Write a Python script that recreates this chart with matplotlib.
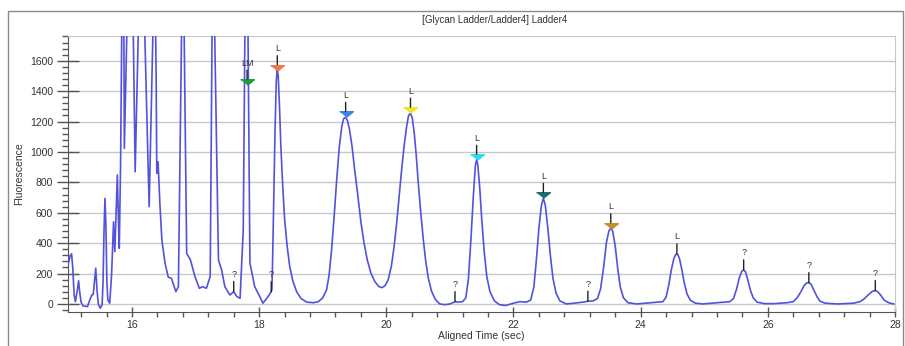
import matplotlib
matplotlib.use("Agg")
import matplotlib.pyplot as plt
import matplotlib.transforms as mtransforms
from matplotlib.patches import Rectangle
from matplotlib.ticker import MultipleLocator

plt.rcParams['font.family'] = ['Liberation Sans', 'DejaVu Sans']

# trace (time in sec, fluorescence)
trace_time = [
    15.00, 15.03, 15.05, 15.07, 15.09, 15.11, 15.14, 15.16, 15.18, 15.20,
    15.23, 15.30, 15.34, 15.37, 15.39, 15.41, 15.43, 15.45, 15.47, 15.50,
    15.53, 15.545, 15.56, 15.575, 15.59, 15.605, 15.62, 15.65, 15.68, 15.71,
    15.73, 15.75, 15.77, 15.79, 15.80, 15.82,
    15.84, 15.86, 15.88, 15.92, 15.96, 16.02, 16.05, 16.10, 16.15, 16.20,
    16.27, 16.33, 16.35, 16.38, 16.39, 16.41, 16.44, 16.47, 16.52, 16.57,
    16.62, 16.69, 16.73, 16.78, 16.80, 16.82, 16.86, 16.92, 16.99, 17.06,
    17.11, 17.17, 17.23, 17.26, 17.28, 17.30, 17.36, 17.41, 17.46, 17.54,
    17.60, 17.65, 17.70, 17.75, 17.80, 17.855, 17.93, 18.01, 18.06, 18.14,
    18.18, 18.20, 18.21, 18.23, 18.25, 18.27, 18.285, 18.30, 18.32, 18.34,
    18.37, 18.40, 18.44, 18.48, 18.53, 18.59, 18.66, 18.75, 18.85, 18.93,
    19.00, 19.06, 19.10, 19.14, 19.18, 19.22, 19.26, 19.30, 19.33, 19.36,
    19.39, 19.42, 19.46, 19.50, 19.55, 19.60, 19.65, 19.70, 19.76, 19.82,
    19.88, 19.93, 19.98, 20.03, 20.08, 20.12, 20.16, 20.20, 20.24, 20.28,
    20.32, 20.35, 20.38, 20.41, 20.44, 20.47, 20.50, 20.54, 20.58, 20.62,
    20.66, 20.71, 20.77, 20.84, 20.92, 21.00, 21.06, 21.08, 21.12, 21.20,
    21.25, 21.29, 21.33, 21.37, 21.40, 21.42, 21.44, 21.47, 21.50, 21.54,
    21.58, 21.63, 21.70, 21.78, 21.88, 22.00, 22.10, 22.20, 22.27, 22.32,
    22.36, 22.40, 22.44, 22.47, 22.50, 22.54, 22.58, 22.62, 22.67, 22.73,
    22.83, 22.95, 23.10, 23.17, 23.25, 23.32, 23.37, 23.42, 23.46, 23.50,
    23.53, 23.56, 23.60, 23.64, 23.68, 23.73, 23.80, 23.94, 24.15, 24.35,
    24.40, 24.44, 24.48, 24.52, 24.55, 24.58, 24.61, 24.65, 24.69, 24.73,
    24.78, 24.86, 24.98, 25.20, 25.40, 25.46, 25.51, 25.55, 25.59, 25.62,
    25.65, 25.69, 25.73, 25.77, 25.83, 25.95, 26.10, 26.30, 26.40, 26.46,
    26.52, 26.57, 26.61, 26.645, 26.68, 26.72, 26.77, 26.82, 26.90, 27.10,
    27.35, 27.45, 27.52, 27.58, 27.64, 27.69, 27.73, 27.78, 27.83, 27.90,
    27.98,
]
trace_value = [
    268, 320, 329, 230, 60, 15, 90, 153, 70, 10,
    -13, -17, 30, 60, 62, 150, 235, 90, 0, -28,
    -7, 150, 480, 695, 520, 150, 26, 5, 200, 541,
    344, 600, 849, 500, 366, 900,
    1800, 3000, 1024, 1800, 3000, 1800, 870, 1800, 3000, 1800,
    640, 1800, 2600, 1500, 860, 936, 650, 421, 268, 176,
    169, 81, 114, 1800, 3000, 1800, 333, 289, 180, 103,
    114, 103, 180, 1800, 3000, 1800, 289, 224, 114, 59,
    81, 48, 37, 487, 3000, 268, 114, 48, 5, 48,
    75, 92, 250, 700, 1150, 1470, 1545, 1500, 1300, 1050,
    780, 560, 380, 250, 150, 80, 35, 12, 8, 15,
    40, 92, 190, 360, 580, 820, 1030, 1170, 1220, 1228,
    1205, 1150, 1040, 890, 720, 540, 400, 290, 200, 147,
    115, 107, 120, 160, 250, 370, 520, 700, 880, 1040,
    1170, 1240, 1255, 1220, 1120, 980, 810, 610, 430, 280,
    170, 85, 30, 0, -5, 0, 10, 15, 12, 15,
    40, 160, 420, 720, 910, 950, 910, 760, 560, 340,
    180, 80, 20, -5, -10, 5, 15, 12, 25, 110,
    290, 500, 650, 695, 650, 500, 320, 170, 70, 20,
    0, 5, 12, 18, 20, 35, 100, 250, 400, 480,
    498, 480, 380, 230, 110, 40, 8, 0, 8, 15,
    45, 120, 220, 295, 325, 328, 300, 220, 130, 65,
    25, 5, 0, 8, 15, 35, 100, 170, 215, 224,
    210, 150, 85, 40, 12, 2, 2, 8, 15, 40,
    80, 120, 138, 140, 130, 95, 50, 18, 5, 0,
    5, 15, 35, 60, 82, 88, 80, 55, 25, 8,
    0,
]

# peak labels
peak_time = [17.60, 17.81, 18.19, 18.285, 19.36, 20.38, 21.08, 21.42,
             22.47, 23.17, 23.53, 24.57, 25.62, 26.645, 27.69]
peak_label = ['?', 'LM', '?', 'L', 'L', 'L', '?', 'L',
              'L', '?', 'L', 'L', '?', '?', '?']
peak_height = [81, 1440, 80, 1535, 1228, 1255, 15, 945,
               695, 18, 495, 329, 224, 140, 88]
peak_color = [None, '#1f9a3c', None, '#f07a4a', '#3c84e8', '#f2e41c', None, '#2edcf0',
              '#1a6e70', None, '#c88c2a', None, None, None, None]

fig = plt.figure(figsize=(9.05, 3.46), dpi=100)
W, H = 905.0, 346.0
ax = fig.add_axes([68.4 / W, (H - 312) / H, (895 - 68.4) / W, (312 - 36) / H])

# outer frame of the panel
fig.patches.append(Rectangle((8 / W, -0.05), (903 - 8) / W, (H - 11) / H + 0.05,
                             transform=fig.transFigure, fill=False,
                             edgecolor='#8a8a8a', linewidth=1.0))

ax.plot(trace_time, trace_value, color='#5252dc', linewidth=1.2, zorder=3)

ax.set_xlim(15, 28)
ax.set_ylim(-53, 1763)
ax.xaxis.set_major_locator(MultipleLocator(2))
ax.xaxis.set_minor_locator(MultipleLocator(0.4))
ax.yaxis.set_major_locator(MultipleLocator(200))
ax.yaxis.set_minor_locator(MultipleLocator(40))
ax.set_yticks(range(0, 1601, 200))

ax.grid(axis='y', color='#c8c8c8', linewidth=1.0)
ax.set_axisbelow(True)

for side in ['left', 'bottom']:
    ax.spines[side].set_color('#555555')
for side in ['top', 'right']:
    ax.spines[side].set_color('#c8c8c8')

ax.tick_params(axis='y', which='major', direction='inout', length=16, width=1,
               color='#555555', labelsize=7.5, labelcolor='#333333', pad=3)
ax.tick_params(axis='y', which='minor', direction='out', length=4.5, width=1,
               color='#555555')
ax.tick_params(axis='x', which='major', direction='inout', length=7, width=1,
               color='#555555', labelsize=7.5, labelcolor='#333333', pad=2)
ax.tick_params(axis='x', which='minor', direction='out', length=3.5, width=1,
               color='#555555')

ax.set_xlabel('Aligned Time (sec)', fontsize=7.5, color='#333333', labelpad=1)
ax.set_ylabel('Fluorescence', fontsize=7.5, color='#333333', labelpad=4)

fig.text(495 / W, 1 - 20 / H, '[Glycan Ladder/Ladder4] Ladder4', ha='center',
         va='center', fontsize=7, color='#333333')

for t, lab, h, c in zip(peak_time, peak_label, peak_height, peak_color):
    if c is not None:
        mk = mtransforms.offset_copy(ax.transData, fig=fig, x=0, y=2.2, units='points')
        ax.plot([t], [h], marker=[(-1, 0.4), (1, 0.4), (0, -0.4)], markersize=10,
                color=c, markeredgecolor=c, transform=mk, zorder=5, clip_on=False)
        start, stop, txt = 4.3, 10.8, 12.5
    else:
        start, stop, txt = 0, 7.2, 9
    base = mtransforms.offset_copy(ax.transData, fig=fig, x=0, y=start, units='points')
    ax.annotate('', xy=(t, h), xycoords=base, xytext=(0, stop - start),
                textcoords='offset points',
                arrowprops=dict(arrowstyle='-', color='#222222', lw=1.0,
                                shrinkA=0, shrinkB=0), zorder=6)
    ax.annotate(lab, xy=(t, h), xytext=(0, txt), textcoords='offset points',
                ha='center', va='bottom', fontsize=6.5, color='#333333', zorder=6)

fig.savefig('out.png', dpi=100)
